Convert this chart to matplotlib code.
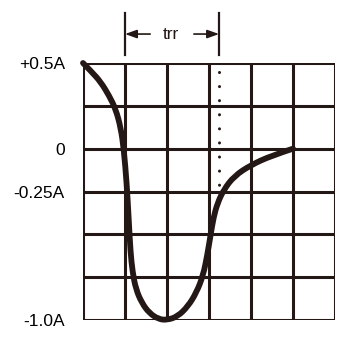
import matplotlib.pyplot as plt
from matplotlib.path import Path
from matplotlib.patches import PathPatch

plt.rcParams['font.family'] = ['Liberation Sans', 'DejaVu Sans']

# current waveform (x in grid divisions, y in A)
curve_x = [0.0, 0.2, 0.42, 0.62, 0.78, 0.9, 0.97, 1.04, 1.09, 1.13, 1.18, 1.26, 1.4,
           1.58, 1.8, 2.0, 2.25, 2.5, 2.7, 2.86, 2.96, 3.04, 3.11, 3.2, 3.35, 3.6,
           4.0, 4.5, 5.0]
curve_y = [0.5, 0.45, 0.39, 0.31, 0.23, 0.12, 0.0, -0.2, -0.42, -0.6, -0.72, -0.82, -0.9,
           -0.96, -0.995, -1.0, -0.98, -0.92, -0.84, -0.74, -0.62, -0.5, -0.4, -0.32, -0.24, -0.16,
           -0.095, -0.04, 0.0]

ytick_vals = [0.5, 0.0, -0.25, -1.0]
ytick_labels = ['+0.5A', '0', '-0.25A', '-1.0A']

trr_start = 1.0
trr_end = 3.24

ink = '#231815'

fig = plt.figure(figsize=(3.42, 3.38), dpi=100)
ax = fig.add_axes([83 / 342, 18 / 338, 252 / 342, 257 / 338])
ax.set_xlim(0, 6)
ax.set_ylim(-1.0, 0.5)

# grid
for gx in range(7):
    ax.axvline(gx, color=ink, lw=2.2, zorder=1)
for k in range(7):
    ax.axhline(-1.0 + 0.25 * k, color=ink, lw=2.2, zorder=1)

# smooth curve: points used as quadratic control points, midpoints as anchors
pts = list(zip(curve_x, curve_y))
verts = [pts[0]]
codes = [Path.MOVETO]
for i in range(1, len(pts) - 1):
    mid = ((pts[i][0] + pts[i + 1][0]) / 2, (pts[i][1] + pts[i + 1][1]) / 2)
    if i == len(pts) - 2:
        mid = pts[-1]
    verts += [pts[i], mid]
    codes += [Path.CURVE3, Path.CURVE3]
ax.add_patch(PathPatch(Path(verts, codes), fill=False, edgecolor=ink, lw=4.2,
                       capstyle='round', joinstyle='round', zorder=3, clip_on=False))

# dotted marker at end of trr
ax.plot([trr_end, trr_end], [0.45, -0.24], color=ink, lw=2.2,
        linestyle=(0, (0.01, 4.6)), dash_capstyle='round', zorder=2)

ax.set_xticks([])
ax.set_yticks(ytick_vals)
ax.set_yticklabels(ytick_labels, fontsize=12.5)
ax.tick_params(axis='y', length=0, pad=13)
for s in ax.spines.values():
    s.set_visible(False)

# trr dimension marker above the grid
for xv in (trr_start, trr_end):
    ax.plot([xv, xv], [0.547, 0.79], color=ink, lw=1.6, clip_on=False)
arrow = dict(arrowstyle='-|>,head_length=0.7,head_width=0.25', color=ink, lw=1.2,
             mutation_scale=10, shrinkA=0, shrinkB=0)
ax.annotate('', xy=(trr_start, 0.669), xytext=(1.6, 0.669),
            arrowprops=arrow, annotation_clip=False)
ax.annotate('', xy=(trr_end, 0.669), xytext=(2.64, 0.669),
            arrowprops=arrow, annotation_clip=False)
ax.text(2.1, 0.669, 'trr', ha='center', va='center', fontsize=12.5,
        color=ink)

fig.savefig('out.png', dpi=100)
